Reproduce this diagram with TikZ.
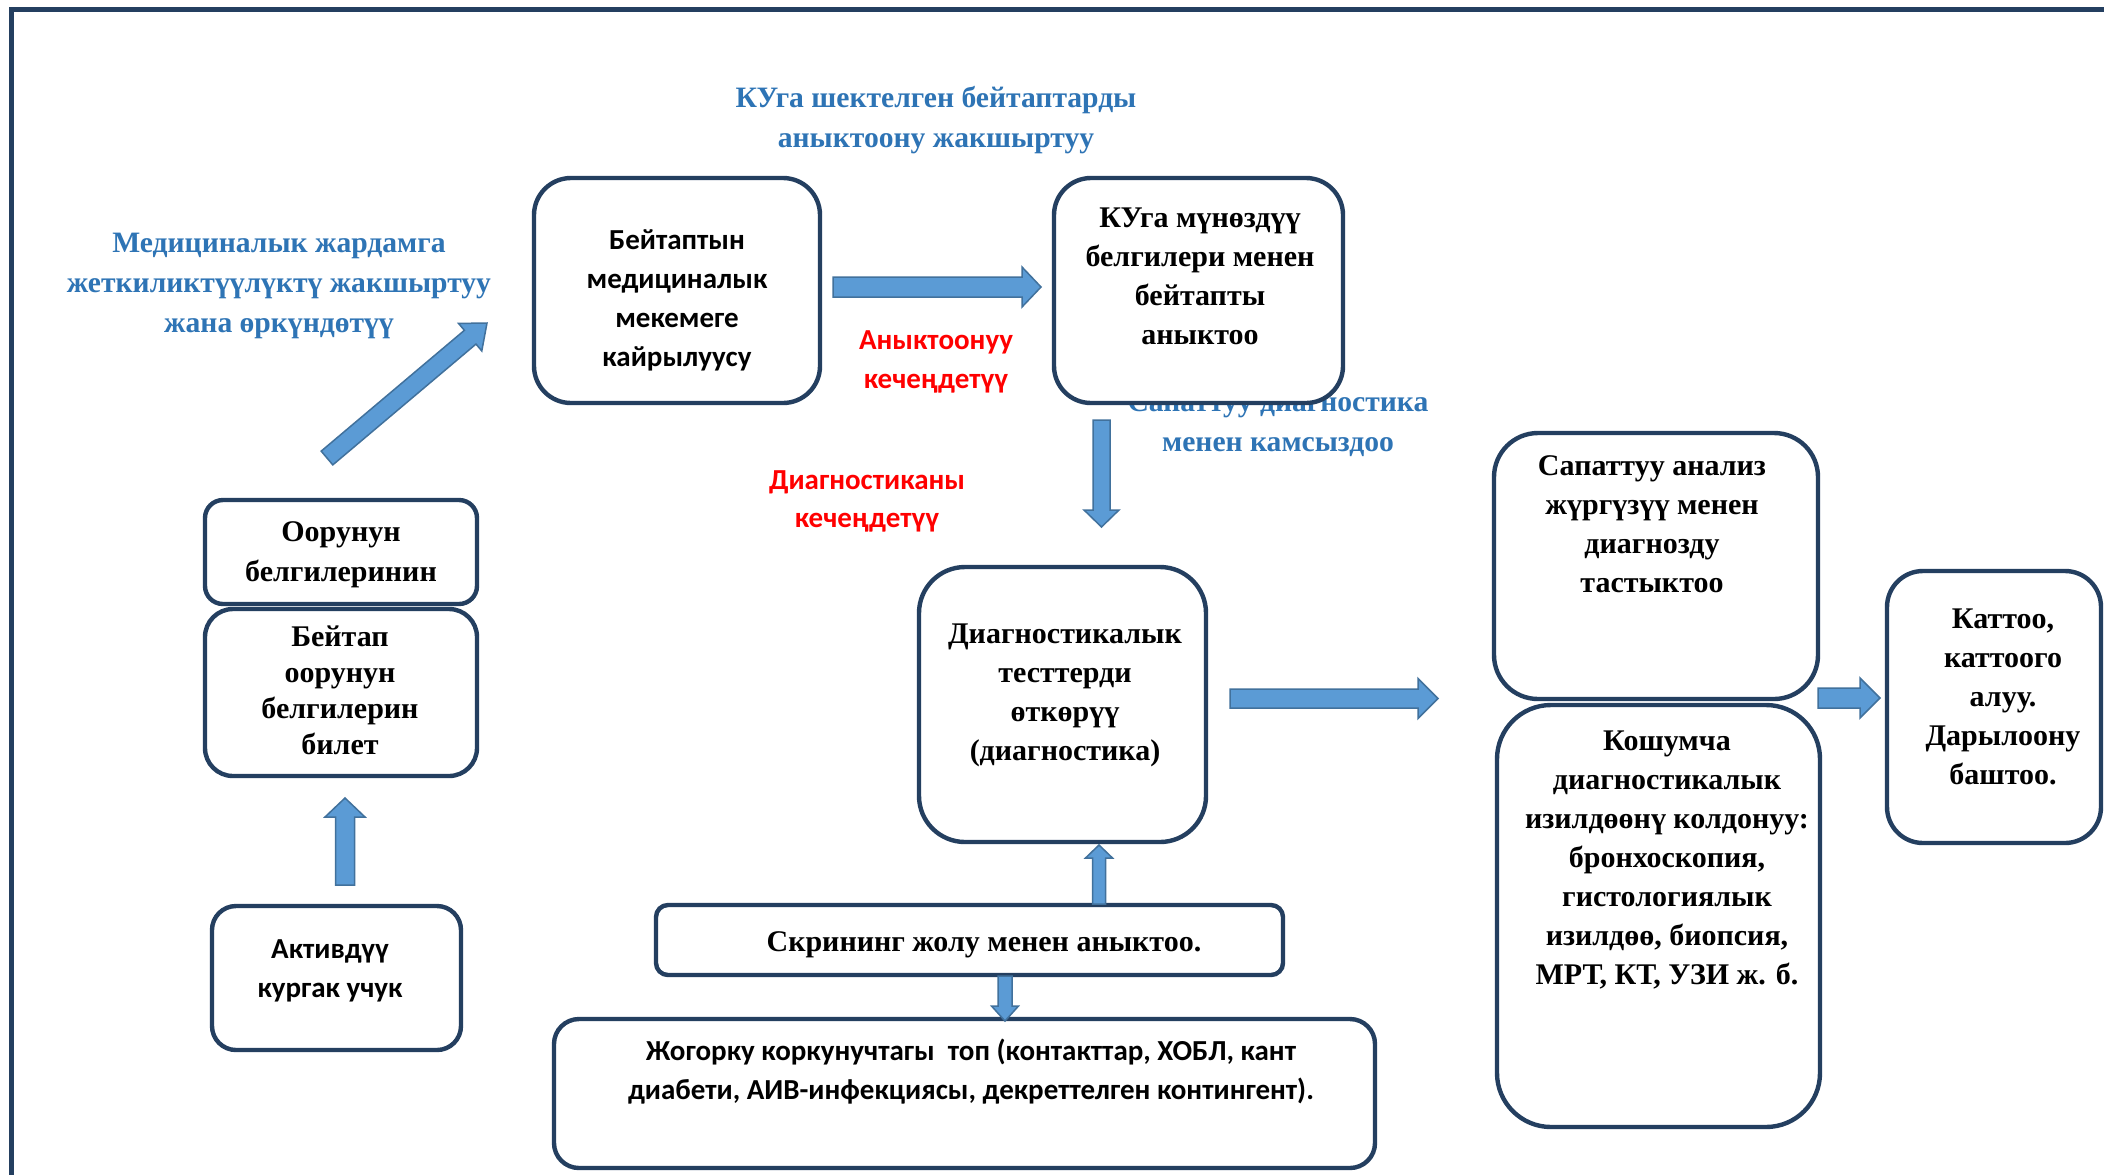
\documentclass[tikz,border=0pt]{standalone}
\usepackage{fontspec}
\setmainfont{Liberation Serif}
\newfontfamily\sansf{Carlito}
\usetikzlibrary{calc}
\definecolor{boxc}{HTML}{243F60}
\definecolor{arfill}{HTML}{5B9BD5}
\definecolor{arline}{HTML}{41719C}
\definecolor{bluet}{HTML}{2E74B5}
\definecolor{redt}{HTML}{FF0000}
\tikzset{
  box/.style={draw=boxc, line width=2.2pt, fill=white, inner sep=0pt, rectangle},
  sert/.style={font=\fontsize{15}{19.5}\selectfont\bfseries, align=center, inner sep=0pt},
  sant/.style={font=\sansf\fontsize{14.5}{19.5}\selectfont\bfseries, align=center, inner sep=0pt},
  bluelab/.style={font=\fontsize{14.8}{20}\selectfont\bfseries, align=center, inner sep=0pt, text=bluet},
  redlab/.style={font=\sansf\fontsize{14.5}{19.5}\selectfont\bfseries, align=center, inner sep=0pt, text=redt},
  blockar/.style={fill=arfill, draw=arline, line width=0.75pt, line join=miter},
}
% #1 start, #2 end, #3 shaft half width, #4 head half width, #5 head length
\newcommand\blockarrow[5]{%
  \coordinate (bah) at ($(#2)!#5!(#1)$);
  \filldraw[blockar] ($(#1)!#3!90:(#2)$) -- ($(bah)!#3!90:(#2)$) -- ($(bah)!#4!90:(#2)$)
    -- (#2) -- ($(bah)!#4!-90:(#2)$) -- ($(bah)!#3!-90:(#2)$) -- ($(#1)!#3!-90:(#2)$) -- cycle;
}
\begin{document}
\begin{tikzpicture}[x=0.5pt,y=-0.5pt]
\useasboundingbox (0,0) rectangle (2104,1174);
\fill[white] (0,0) rectangle (2104,1174);
% frame
\draw[boxc, line width=2.5pt] (11,1190) -- (11,9) -- (2120,9);

% labels (drawn first, boxes cover them)
\node[bluelab] (bl1) at (279,286) {Медициналык жардамга\\жеткиликтүүлүктү жакшыртуу\\жана өркүндөтүү};
\node[bluelab] (bl2) at (936,120) {КУга шектелген бейтаптарды\\аныктоону жакшыртуу};
\node[bluelab] (bl3) at (1278,424) {Сапаттуу диагностика\\менен камсыздоо};
\node[redlab] (r1) at (936,362) {Аныктоонуу\\кечеңдетүү};
\node[redlab, font=\sansf\fontsize{14.5}{19}\selectfont\bfseries] (r2) at (867,501) {Диагностиканы\\кечеңдетүү};

% boxes
\node[box, rounded corners=18.5pt, minimum width=143pt, minimum height=112.5pt] (b1) at (677,290.5) {};
\node[box, rounded corners=18.5pt, minimum width=144.5pt, minimum height=112.5pt] (b2) at (1198.5,290.5) {};
\node[box, rounded corners=23pt, minimum width=143.5pt, minimum height=137.5pt] (b3) at (1062.5,704.5) {};
\node[box, rounded corners=22pt, minimum width=162pt, minimum height=133pt] (b4) at (1656,566) {};
\node[box, rounded corners=27pt, minimum width=161.5pt, minimum height=211pt] (b5) at (1658.5,916) {};
\node[box, rounded corners=18pt, minimum width=107pt, minimum height=136pt] (b6) at (1994,707) {};
\node[box, rounded corners=9pt, minimum width=136pt, minimum height=52pt] (b7) at (341,552) {};
\node[box, rounded corners=14pt, minimum width=136pt, minimum height=83.5pt] (b8) at (341,692.5) {};
\node[box, rounded corners=12pt, minimum width=124.5pt, minimum height=72pt] (b9) at (336.5,978) {};
\node[box, rounded corners=6pt, minimum width=313.5pt, minimum height=35pt] (b10) at (969.5,940) {};
\node[box, rounded corners=12.5pt, minimum width=410.5pt, minimum height=74.5pt] (b11) at (964.5,1093.5) {};

% box texts
\node[sant] (t1) at (677,300.5) {Бейтаптын\\медициналык\\мекемеге\\кайрылуусу};
\node[sert] (t2) at (1200,276.5) {КУга мүнөздүү\\белгилери менен\\бейтапты\\аныктоо};
\node[sert] (t3) at (1065,695) {Диагностикалык\\тесттерди\\өткөрүү\\(диагностика)};
\node[sert] (t4) at (1652,524) {Сапаттуу анализ\\жүргүзүү менен\\диагнозду\\тастыктоо};
\node[sert] (t5) at (1667,860) {Кошумча\\диагностикалык\\изилдөөнү колдонуу:\\бронхоскопия,\\гистологиялык\\изилдөө, биопсия,\\МРТ, КТ, УЗИ ж. б.};
\node[sert] (t6) at (2003,697) {Каттоо,\\каттоого\\алуу.\\Дарылоону\\баштоо.};
\node[sert, font=\fontsize{15}{20}\selectfont\bfseries] (t7) at (341,555) {Оорунун\\белгилеринин};
\node[sert, font=\fontsize{15}{18}\selectfont\bfseries] (t8) at (340,690.5) {Бейтап\\оорунун\\белгилерин\\билет};
\node[sant] (t9) at (330,970.5) {Активдүү\\кургак учук};
\node[sert] (t10) at (984,945) {Скрининг жолу менен аныктоо.};
\node[sant] (t11) at (971,1071.5) {Жогорку коркунучтагы\ \ топ (контакттар, ХОБЛ, кант\\диабети, АИВ-инфекциясы, декреттелген контингент).};

% arrow end points
\coordinate (a1s) at (833,287);   \coordinate (a1e) at (1041,287);
\coordinate (a2s) at (327,458);   \coordinate (a2e) at (487,323);
\coordinate (a3s) at (1101.5,420); \coordinate (a3e) at (1101.5,527);
\coordinate (a4s) at (1230,698.5); \coordinate (a4e) at (1438,698.5);
\coordinate (a5s) at (1818,698);  \coordinate (a5e) at (1880,698);
\coordinate (a6s) at (345,885);   \coordinate (a6e) at (345,798);
\coordinate (a7s) at (1099,904);  \coordinate (a7e) at (1099,845);
\coordinate (a8s) at (1005,976);  \coordinate (a8e) at (1005,1021);

\blockarrow{a1s}{a1e}{5pt}{10pt}{9.5pt}
\blockarrow{a2s}{a2e}{4.5pt}{9pt}{11pt}
\blockarrow{a3s}{a3e}{4.25pt}{8.75pt}{8.5pt}
\blockarrow{a4s}{a4e}{4.75pt}{10pt}{10pt}
\blockarrow{a5s}{a5e}{5pt}{10pt}{10pt}
\blockarrow{a6s}{a6e}{4.75pt}{10pt}{9.5pt}
\blockarrow{a7s}{a7e}{3.25pt}{6.75pt}{6.5pt}
\blockarrow{a8s}{a8e}{3.5pt}{6.75pt}{7.5pt}
\end{tikzpicture}
\end{document}
